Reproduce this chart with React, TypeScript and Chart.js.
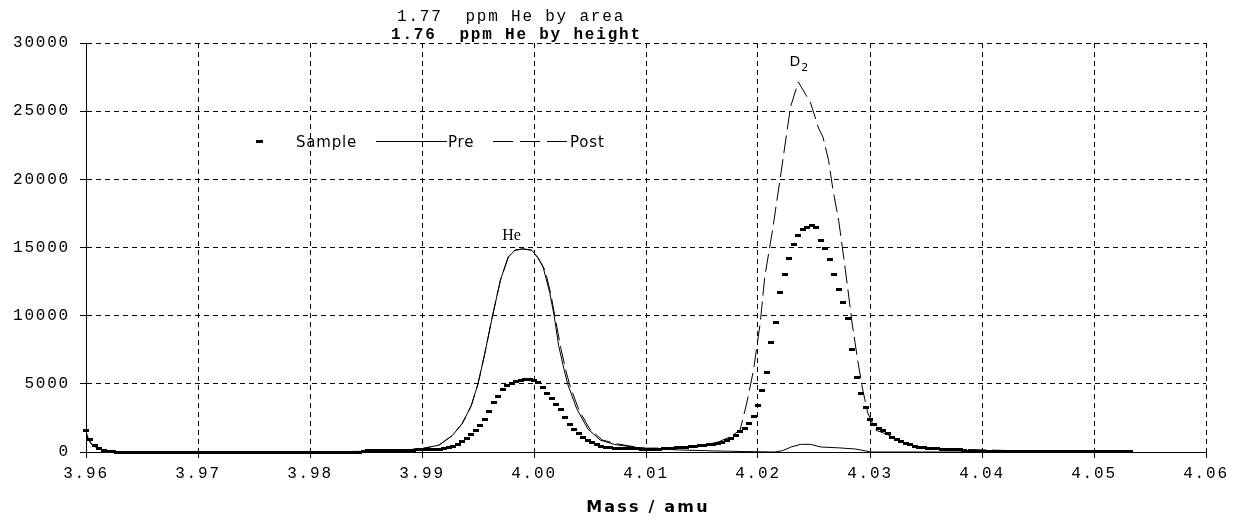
import React, { useEffect, useRef } from 'react';
import { Chart, registerables } from 'chart.js';

Chart.register(...registerables);

// ---- axis ticks ----
const xTickValues = [3.96, 3.97, 3.98, 3.99, 4.0, 4.01, 4.02, 4.03, 4.04, 4.05, 4.06];
const xTickLabels = ['3.96', '3.97', '3.98', '3.99', '4.00', '4.01', '4.02', '4.03', '4.04', '4.05', '4.06'];
const yTickValues = [0, 5000, 10000, 15000, 20000, 25000, 30000];
const yTickLabels = ['0', '5000', '10000', '15000', '20000', '25000', '30000'];

// ---- texts ----
const noteLines = ['1.77  ppm He by area', '1.76  ppm He by height'];
const seriesNames = ['Sample', 'Pre', 'Post'];
const xTitle = 'Mass / amu';
const heLabel = 'He';

// ---- Sample: one reading every 0.0004 amu from 3.9600 ----
const sampleStart = 3.96;
const sampleStep = 0.0004;
const sampleY = [
  1600, 900, 500, 250, 120, 60, 30, 0, 0, 0,
  -60, 0, 0, 0, 0, 0, -60, 0, 0, 0,
  0, 0, 0, 0, 0, 0, 0, 0, 0, 0,
  0, 0, 0, 0, 0, 0, 0, 0, 0, 0,
  0, 0, 0, 0, 0, 0, 0, 0, 0, 0,
  0, 0, 0, 0, 0, 0, 0, 0, 0, 0,
  0, 0, 60, 80, 100, 100, 100, 100, 110, 120,
  120, 130, 130, 140, 150, 150, 150, 150, 180, 200,
  260, 330, 420, 560, 750, 980, 1250, 1580, 1950, 2400,
  3000, 3650, 4100, 4550, 4850, 5050, 5200, 5280, 5320, 5320,
  5280, 5100, 4750, 4300, 3900, 3500, 3100, 2500, 2050, 1650,
  1350, 1100, 880, 680, 520, 420, 350, 300, 280, 270,
  260, 250, 240, 230, 220, 200, 200, 210, 220, 230,
  250, 280, 300, 330, 360, 390, 420, 450, 480, 520,
  560, 620, 700, 850, 1000, 1200, 1500, 1700, 2100, 2600,
  3400, 4500, 5800, 8000, 9500, 11700, 13000, 14200, 15200, 15900,
  16300, 16500, 16600, 16500, 15500, 14900, 14100, 13000, 11900, 11000,
  9800, 7500, 5500, 4300, 3300, 2400, 2000, 1750, 1550, 1350,
  1100, 950, 800, 650, 520, 420, 350, 300, 280, 250,
  230, 220, 220, 210, 200, 150, 100, 60, 30, 30,
  30, 30, 30, 30, 30, 30, 30, 30, 30, 30,
  30, 30, 30, 30, 30, 30, 30, 30, 30, 30,
  30, 30, 30, 30, 30, 30, 30, 30, 30, 30,
  30, 30, 30, 30,
];

// ---- Pre (solid) ----
const preX = [
  3.96, 3.9602, 3.9605, 3.961, 3.9616, 3.9625, 3.964, 3.98, 3.985, 3.988,
  3.99, 3.9915, 3.9927, 3.9936, 3.9944, 3.995, 3.9956, 3.9963, 3.997, 3.9977,
  3.9983, 3.999, 3.9998, 4.0003, 4.0008, 4.0014, 4.0018, 4.0022, 4.0027, 4.003,
  4.0038, 4.0048, 4.0059, 4.0072, 4.0085, 4.01, 4.013, 4.016, 4.019, 4.0215,
  4.0222, 4.0229, 4.0238, 4.0247, 4.0256, 4.0273, 4.0287, 4.0296, 4.03, 4.04,
  4.0532,
];
const preY = [
  1500, 1000, 600, 300, 100, 20, 0, 0, 50, 120,
  250, 500, 1200, 2100, 3400, 5000, 7200, 10000, 12600, 14300,
  14800, 14900, 14800, 14300, 13600, 11700, 10000, 7800, 6000, 5000,
  3200, 1700, 880, 550, 400, 250, 150, 80, 30, 0,
  100, 350, 560, 560, 370, 300, 220, 80, 0, 0,
  0,
];

// ---- Post (dashed) ----
const postX = [
  3.96, 3.9602, 3.9605, 3.961, 3.9616, 3.9625, 3.964, 3.98, 3.985, 3.988,
  3.99, 3.9915, 3.9927, 3.9936, 3.9944, 3.995, 3.9956, 3.9963, 3.997, 3.9977,
  3.9983, 3.999, 3.9998, 4.0004, 4.001, 4.0015, 4.0019, 4.0024, 4.0029, 4.0032,
  4.004, 4.005, 4.0061, 4.0074, 4.0087, 4.01, 4.013, 4.015, 4.0165, 4.0175,
  4.0184, 4.019, 4.0196, 4.0202, 4.0206, 4.0213, 4.022, 4.0229, 4.0236, 4.0247,
  4.0254, 4.0258, 4.0263, 4.0267, 4.0272, 4.0276, 4.028, 4.0284, 4.0289, 4.0293,
  4.0298, 4.0305, 4.0315, 4.033, 4.0345, 4.038, 4.045, 4.0532,
];
const postY = [
  1400, 900, 550, 280, 90, 20, 0, 0, 50, 120,
  250, 500, 1200, 2100, 3400, 5000, 7200, 10000, 12600, 14300,
  14800, 14900, 14800, 14200, 13300, 11600, 9800, 7600, 5800, 4900,
  3100, 1650, 880, 600, 420, 280, 300, 450, 750, 1100,
  1610, 3600, 6010, 9460, 12840, 16280, 20170, 25300, 27140, 25600,
  23770, 23100, 21400, 19200, 17000, 14600, 12100, 9460, 6750, 4770,
  2860, 1610, 1300, 700, 350, 200, 50, 30,
];

// label anchors (data coordinates)
const heLabelAt = { x: 3.998, y: 15550 };
const d2LabelAt = { x: 4.0236, y: 28300 };

const MONO = '"Liberation Mono", "DejaVu Sans Mono", monospace';
const SANS = '"DejaVu Sans", sans-serif';

function makeBar(w: number, h: number) {
  const c = document.createElement('canvas');
  c.width = w;
  c.height = h;
  const g = c.getContext('2d')!;
  g.fillStyle = '#000';
  g.fillRect(0, 0, w, h);
  return c;
}

const annotate = {
  id: 'annotate',
  beforeDraw(chart: any) {
    (chart.ctx as any).letterSpacing = '1.8px';
  },
  afterDraw(chart: any) {
    const { ctx, chartArea, scales } = chart;
    ctx.save();
    ctx.fillStyle = '#000';
    ctx.strokeStyle = '#000';
    ctx.textBaseline = 'alphabetic';
    ctx.textAlign = 'left';

    // header notes
    ctx.letterSpacing = '1.8px';
    ctx.font = `16px ${MONO}`;
    ctx.fillText(noteLines[0], 397, 21);
    ctx.font = `bold 16px ${MONO}`;
    ctx.fillText(noteLines[1], 391, 39);

    // peak labels
    ctx.letterSpacing = '0px';
    ctx.textAlign = 'center';
    ctx.font = '16px "Liberation Serif", serif';
    ctx.fillText(heLabel, scales.x.getPixelForValue(heLabelAt.x), scales.y.getPixelForValue(heLabelAt.y));
    const dx = scales.x.getPixelForValue(d2LabelAt.x);
    const dy = scales.y.getPixelForValue(d2LabelAt.y);
    ctx.textAlign = 'right';
    ctx.font = `14px ${SANS}`;
    ctx.fillText('D', dx + 2, dy);
    ctx.textAlign = 'left';
    ctx.font = `11px ${SANS}`;
    ctx.fillText('2', dx + 3, dy + 5);

    // legend
    ctx.font = `15px ${SANS}`;
    ctx.letterSpacing = '0.8px';
    ctx.fillRect(256, 140, 7, 3);
    ctx.fillText(seriesNames[0], 296, 147);
    ctx.lineWidth = 1;
    ctx.beginPath();
    ctx.moveTo(376, 141.5);
    ctx.lineTo(447, 141.5);
    ctx.stroke();
    ctx.fillText(seriesNames[1], 448, 147);
    ctx.setLineDash([20, 7]);
    ctx.beginPath();
    ctx.moveTo(493, 141.5);
    ctx.lineTo(569, 141.5);
    ctx.stroke();
    ctx.setLineDash([]);
    ctx.fillText(seriesNames[2], 570, 147);

    // x axis title
    ctx.textAlign = 'center';
    ctx.textBaseline = 'middle';
    ctx.letterSpacing = '2.2px';
    ctx.font = `bold 16px ${SANS}`;
    ctx.fillText(xTitle, (chartArea.left + chartArea.right) / 2 + 2, 508);
    ctx.restore();
  },
};

export default function App() {
  const ref = useRef<HTMLCanvasElement | null>(null);

  useEffect(() => {
    if (!ref.current) return;
    const bar = makeBar(6, 3);
    const sampleData = sampleY.map((y, i) => ({ x: sampleStart + i * sampleStep, y }));
    const preData = preX.map((x, i) => ({ x, y: preY[i] }));
    const postData = postX.map((x, i) => ({ x, y: postY[i] }));

    const gridCommon = {
      color: '#000',
      lineWidth: 1,
      drawTicks: true,
      tickLength: 6,
      tickColor: '#000',
      tickWidth: 1,
      tickBorderDash: [],
    };
    const borderCommon = { display: true, color: '#000', width: 1, dash: [5, 4] };
    const tickFont = { family: MONO, size: 16, weight: 'normal' as const };

    const chart = new Chart(ref.current, {
      type: 'line',
      data: {
        datasets: [
          {
            label: seriesNames[0],
            data: sampleData,
            showLine: false,
            pointStyle: bar as any,
            pointRadius: 3,
            pointHoverRadius: 3,
            borderWidth: 0,
            clip: 8,
          },
          {
            label: seriesNames[1],
            data: preData,
            borderColor: '#000',
            borderWidth: 1,
            pointRadius: 0,
            tension: 0,
          },
          {
            label: seriesNames[2],
            data: postData,
            borderColor: '#000',
            borderWidth: 1,
            borderDash: [18, 6],
            pointRadius: 0,
            tension: 0,
          },
        ],
      },
      options: {
        responsive: false,
        animation: false,
        events: [],
        layout: { padding: { left: 0, right: 30, top: 43, bottom: 0 } },
        plugins: {
          legend: { display: false },
          tooltip: { enabled: false },
        },
        scales: {
          x: {
            type: 'linear',
            min: 3.96,
            max: 4.06,
            afterBuildTicks: (s: any) => {
              s.ticks = xTickValues.map((v) => ({ value: v }));
            },
            afterFit: (s: any) => {
              s.height = 71;
            },
            grid: gridCommon,
            border: borderCommon,
            ticks: {
              autoSkip: false,
              maxRotation: 0,
              minRotation: 0,
              padding: 6,
              color: '#000',
              font: tickFont,
              callback: (_v: any, i: number) => xTickLabels[i],
            },
          },
          y: {
            type: 'linear',
            min: 0,
            max: 30000,
            afterBuildTicks: (s: any) => {
              s.ticks = yTickValues.map((v) => ({ value: v }));
            },
            afterFit: (s: any) => {
              s.width = 86;
            },
            grid: gridCommon,
            border: borderCommon,
            ticks: {
              padding: 10,
              color: '#000',
              font: tickFont,
              callback: (_v: any, i: number) => yTickLabels[i],
            },
          },
        },
      } as any,
      plugins: [annotate],
    });
    return () => chart.destroy();
  }, []);

  return (
    <div style={{ position: 'absolute', left: 0, top: 0, width: 1236, height: 523, background: '#fff' }}>
      <canvas ref={ref} width={1236} height={523} style={{ display: 'block' }} />
    </div>
  );
}
